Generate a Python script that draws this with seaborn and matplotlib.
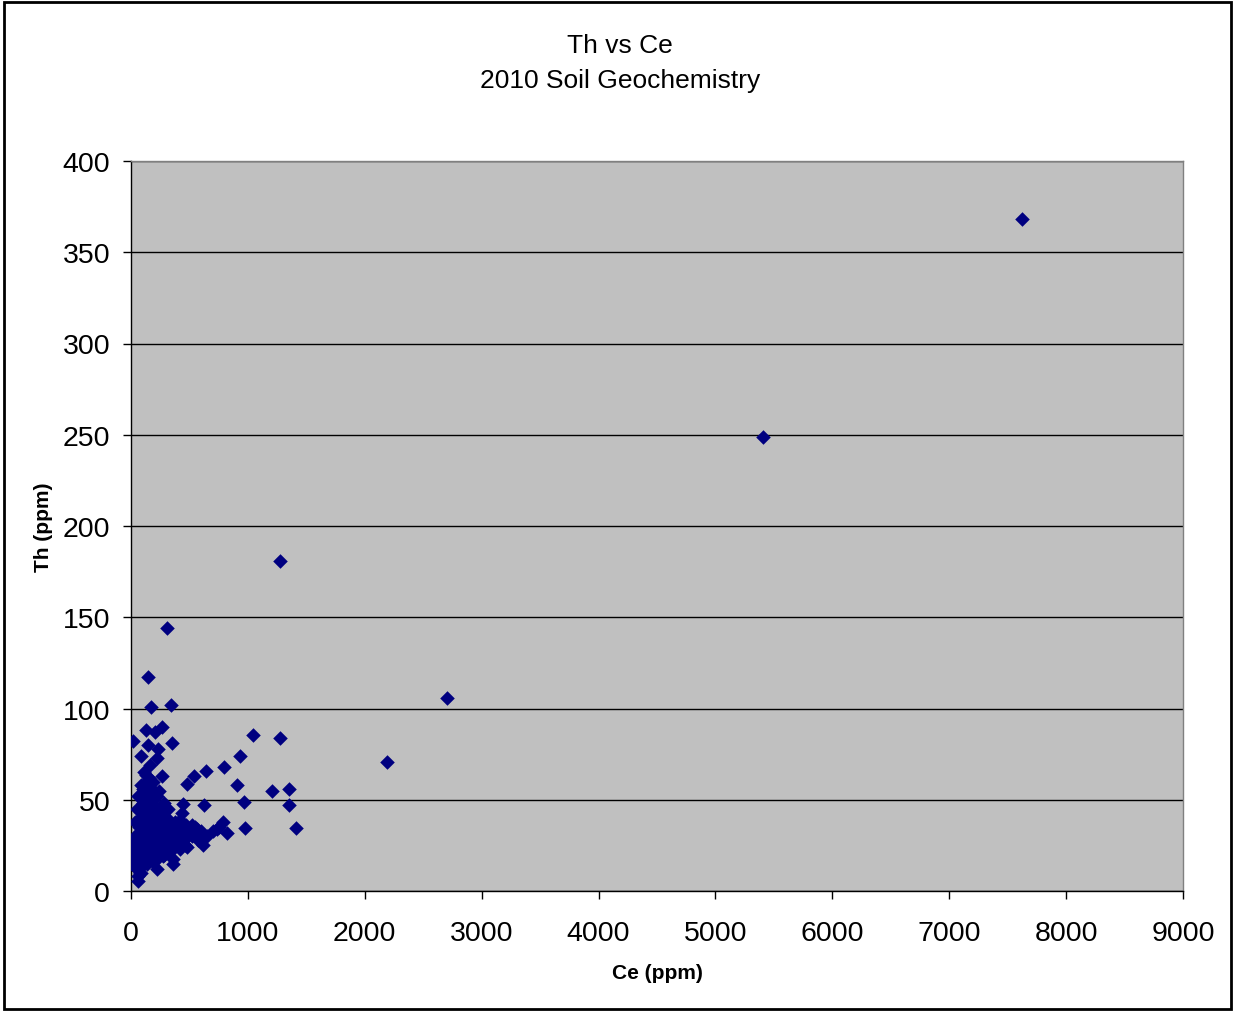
import matplotlib
matplotlib.use('Agg')
import matplotlib.pyplot as plt
import pandas as pd
import seaborn as sns
from matplotlib.patches import Rectangle

# outliers and scattered points
ce_outer = [7620, 5410, 1275, 2700, 2190, 310, 143, 171, 342, 15, 126, 265, 205, 348, 145,
            231, 83, 220, 162, 128, 265, 190, 240, 103, 317, 445, 476, 540, 641, 795, 932,
            1040, 1275, 907, 1206, 1352, 967, 1352, 624, 1412, 975, 787, 818, 733, 604, 613,
            462, 562, 518, 360, 360, 220, 57, 420, 376, 390, 305, 274, 162, 77, 17, 17, 9]
th_outer = [368, 249, 181, 106, 70.5, 144, 117, 101, 102, 82, 88, 90, 87, 81, 80,
            78, 74, 73, 69, 63.5, 63, 60, 55, 56, 45, 47.5, 58.5, 63, 66, 68, 74,
            85.5, 84, 58, 55, 56, 49, 47, 47, 34.5, 34.5, 38, 32, 34, 31, 25,
            25, 34, 36, 17.5, 15, 12, 5.5, 39, 32, 27, 25, 19, 17.5, 10, 14, 24, 21]

# dense cluster near the origin
ce_cluster = [40, 45, 50, 55, 60, 60, 65, 70, 70, 75, 80, 80, 85, 90, 90, 95, 95, 100, 100, 105,
              105, 110, 110, 115, 115, 120, 120, 125, 125, 130, 130, 135, 135, 140, 140, 145, 145,
              150, 150, 155, 155, 160, 160, 165, 165, 170, 170, 175, 175, 180, 180, 185, 185, 190,
              190, 195, 195, 200, 200, 205, 210, 210, 215, 220, 220, 225, 230, 230, 235, 240, 245,
              250, 255, 260, 265, 270, 275, 280, 285, 290, 300, 305, 310, 320, 330, 340, 350, 360,
              370, 380, 390, 400, 410, 420, 430, 440, 450, 470, 480, 500, 520, 550, 570, 600, 650,
              700, 750, 30, 25, 35, 20, 50, 60, 85, 110, 200, 150, 120, 180, 90, 250, 300, 280, 150,
              200, 100, 10, 5, 20]
th_cluster = [22, 18, 25, 12, 30, 8, 20, 35, 15, 27, 40, 22, 10, 32, 18, 45, 26, 38, 14, 50,
              30, 22, 42, 35, 17, 55, 28, 46, 20, 33, 60, 25, 40, 52, 15, 30, 44,
              22, 36, 57, 27, 48, 19, 33, 41, 25, 53, 38, 30, 45, 21, 28, 35, 50,
              16, 42, 31, 24, 37, 46, 29, 20, 34, 40, 26, 52, 31, 18, 44, 27, 36,
              22, 32, 41, 25, 30, 36, 20, 28, 34, 24, 40, 30, 27, 35, 22, 29, 33,
              25, 38, 30, 27, 34, 23, 31, 43, 28, 36, 24, 33, 30, 35, 28, 33, 30,
              33, 35, 30, 24, 38, 20, 45, 52, 58, 65, 30, 25, 38, 38, 26, 45, 45, 48, 62,
              55, 48, 25, 22, 28]

df = pd.DataFrame({'Ce': ce_outer + ce_cluster, 'Th': th_outer + th_cluster})

plt.rcParams['font.family'] = ['Liberation Sans', 'DejaVu Sans']

fig = plt.figure(figsize=(12.33, 10.12), dpi=100)
ax = fig.add_axes([131 / 1233, 1 - 892 / 1012, (1183 - 131) / 1233, (892 - 162) / 1012])
ax.set_facecolor('#C0C0C0')

sns.scatterplot(data=df, x='Ce', y='Th', ax=ax, marker='D', s=55, color='#000080',
                edgecolor='#000080', linewidth=0, zorder=3)

ax.set_xlim(0, 9000)
ax.set_ylim(0, 400)
ax.set_xticks(range(0, 9001, 1000))
ax.set_yticks(range(0, 401, 50))
ax.yaxis.grid(True, color='black', linewidth=1)
ax.set_axisbelow(True)
ax.tick_params(direction='out', length=6, width=1, labelsize=20.5, color='black')
ax.tick_params(axis='y', pad=9)
ax.tick_params(axis='x', pad=15)

for side in ['left', 'bottom']:
    ax.spines[side].set_color('black')
    ax.spines[side].set_linewidth(1)
for side in ['top', 'right']:
    ax.spines[side].set_color('#808080')
    ax.spines[side].set_linewidth(1)

ax.set_xlabel('Ce (ppm)', fontsize=15, fontweight='bold', labelpad=12)
ax.set_ylabel('Th (ppm)', fontsize=15, fontweight='bold', labelpad=7)

fig.text(620 / 1233, 1 - 46 / 1012, 'Th vs Ce', ha='center', va='center', fontsize=19)
fig.text(620 / 1233, 1 - 81 / 1012, '2010 Soil Geochemistry', ha='center', va='center', fontsize=19)

fig.patches.append(Rectangle((4 / 1233, 2 / 1012), 1227 / 1233, 1007 / 1012, transform=fig.transFigure,
                             fill=False, edgecolor='black', linewidth=2))

fig.savefig('out.png', dpi=100)
